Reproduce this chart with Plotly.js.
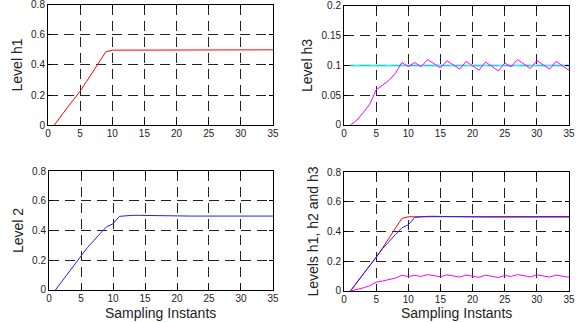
<!DOCTYPE html>
<html>
<head>
<meta charset="utf-8">
<script src="https://cdn.plot.ly/plotly-3.0.1.min.js"></script>
<style>html,body{margin:0;padding:0;background:#fff;}#chart{width:578px;height:322px;}</style>
</head>
<body>
<div id="chart"></div>
<script>
var samples = [];
for (var i = 1; i <= 35; i++) samples.push(i);

var h1 = [0, 0.06, 0.115, 0.17, 0.225, 0.29, 0.355, 0.42, 0.488, 0.499,
  0.499, 0.499, 0.499, 0.499, 0.499, 0.499, 0.499, 0.499, 0.499, 0.499,
  0.499, 0.499, 0.499, 0.499, 0.499, 0.499, 0.499, 0.499, 0.5, 0.501,
  0.501, 0.501, 0.501, 0.501, 0.501];

var h2 = [0, 0.055, 0.115, 0.17, 0.228, 0.285, 0.335, 0.38, 0.425, 0.445,
  0.495, 0.5, 0.502, 0.502, 0.501, 0.499, 0.497, 0.497, 0.497, 0.497,
  0.497, 0.497, 0.497, 0.497, 0.497, 0.497, 0.497, 0.497, 0.497, 0.497,
  0.497, 0.497, 0.497, 0.497, 0.497];

var h3 = [0, 0.008, 0.021, 0.035, 0.059, 0.067, 0.075, 0.087, 0.105, 0.098,
  0.105, 0.098, 0.110, 0.103, 0.096, 0.108, 0.101, 0.094, 0.107, 0.099,
  0.092, 0.106, 0.098, 0.091, 0.104, 0.098, 0.110, 0.103, 0.095, 0.108,
  0.101, 0.094, 0.107, 0.100, 0.092];

var h3Setpoint = 0.1;
var setX = [1, 35];
var setY = [h3Setpoint, h3Setpoint];

var levelTicks = [0, 0.2, 0.4, 0.6, 0.8];
var levelTickText = ['0', '0.2', '0.4', '0.6', '0.8'];
var h3Ticks = [0, 0.05, 0.1, 0.15, 0.2];
var h3TickText = ['0', '0.05', '0.1', '0.15', '0.2'];
var xTitle = 'Sampling Instants';

var font = 'Liberation Sans, Arial, sans-serif';

function xax(domain, anchor) {
  return {
    domain: domain, anchor: anchor, range: [0, 35], dtick: 5, tick0: 0,
    showgrid: true, gridcolor: '#222', griddash: '10px,6px', gridwidth: 1,
    zeroline: false, showline: true, linecolor: '#000', linewidth: 1, mirror: 'ticks',
    ticks: 'inside', ticklen: 4, tickcolor: '#000', ticklabeloverflow: 'allow',
    ticklabelstandoff: -1,
    tickfont: {family: font, size: 10, color: '#222'}, fixedrange: true
  };
}
function yax(domain, anchor, range, tv, tt, title) {
  return {
    domain: domain, anchor: anchor, range: range, tickmode: 'array', tickvals: tv, ticktext: tt,
    showgrid: true, gridcolor: '#222', griddash: '10px,6px', gridwidth: 1,
    zeroline: false, showline: true, linecolor: '#000', linewidth: 1, mirror: 'ticks',
    ticks: 'inside', ticklen: 4, tickcolor: '#000', ticklabeloverflow: 'allow',
    tickfont: {family: font, size: 10, color: '#222'}, fixedrange: true,
    title: {text: title, font: {family: font, size: 14, color: '#222'}, standoff: 5}
  };
}

var traces = [
  {x: samples, y: h1, xaxis: 'x', yaxis: 'y', mode: 'lines', line: {color: '#ff0000', width: 1}},
  {x: setX, y: setY, xaxis: 'x2', yaxis: 'y2', mode: 'lines', line: {color: '#33e6e6', width: 2}, opacity: 0.85},
  {x: samples, y: h3, xaxis: 'x2', yaxis: 'y2', mode: 'lines', line: {color: '#ff00ff', width: 1}},
  {x: samples, y: h2, xaxis: 'x3', yaxis: 'y3', mode: 'lines', line: {color: '#2020ff', width: 1}},
  {x: samples, y: h1, xaxis: 'x4', yaxis: 'y4', mode: 'lines', line: {color: '#ff0000', width: 1}},
  {x: samples, y: h2, xaxis: 'x4', yaxis: 'y4', mode: 'lines', line: {color: '#2020ff', width: 1}},
  {x: samples, y: h3, xaxis: 'x4', yaxis: 'y4', mode: 'lines', line: {color: '#ff00ff', width: 1}}
];

var titleFont = {family: font, size: 14, color: '#222'};
var layout = {
  width: 578, height: 322, showlegend: false,
  margin: {l: 0, r: 0, t: 0, b: 0},
  paper_bgcolor: '#fff', plot_bgcolor: '#fff',
  xaxis: xax([0.0830, 0.4723], 'y'),
  yaxis: yax([0.6118, 0.9845], 'x', [0, 0.8], levelTicks, levelTickText, 'Level h1'),
  xaxis2: xax([0.5952, 0.9844], 'y2'),
  yaxis2: yax([0.6118, 0.9814], 'x2', [0, 0.2], h3Ticks, h3TickText, 'Level h3'),
  xaxis3: xax([0.0848, 0.4723], 'y3'),
  yaxis3: yax([0.0994, 0.4689], 'x3', [0, 0.8], levelTicks, levelTickText, 'Level 2'),
  xaxis4: xax([0.5952, 0.9844], 'y4'),
  yaxis4: yax([0.0963, 0.4658], 'x4', [0, 0.8], levelTicks, levelTickText, 'Levels h1, h2 and h3'),
  annotations: [
    {text: xTitle, xref: 'paper', yref: 'paper', x: 0.2785, y: 1 - 303.5 / 322, xanchor: 'center', yanchor: 'top', showarrow: false, font: titleFont, borderpad: 0},
    {text: xTitle, xref: 'paper', yref: 'paper', x: 0.7898, y: 1 - 303.5 / 322, xanchor: 'center', yanchor: 'top', showarrow: false, font: titleFont, borderpad: 0}
  ]
};

Plotly.newPlot('chart', traces, layout, {displayModeBar: false, staticPlot: true});
</script>
</body>
</html>
